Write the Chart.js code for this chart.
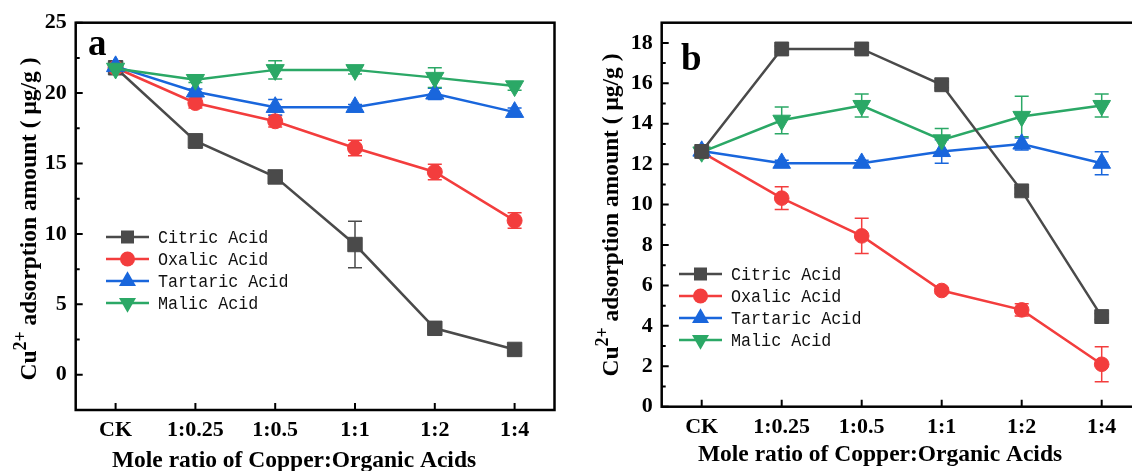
<!DOCTYPE html>
<html><head><meta charset="utf-8">
<script src="https://cdn.jsdelivr.net/npm/chart.js@4/dist/chart.umd.min.js"></script>
<style>
html,body{margin:0;padding:0;background:#fff;overflow:hidden;width:1132px;height:471px;}
#wrap{position:relative;width:1132px;height:471px;overflow:hidden;background:#fff;}
canvas{position:absolute;top:0;}
#ca{left:0;}
#cb{left:566px;}
</style></head><body>
<div id="wrap"><canvas id="ca" width="566" height="471"></canvas><canvas id="cb" width="600" height="471"></canvas></div>
<script>
const categories = ['CK', '1:0.25', '1:0.5', '1:1', '1:2', '1:4'];
const seriesNames = ['Citric Acid', 'Oxalic Acid', 'Tartaric Acid', 'Malic Acid'];

// Panel a values and error bars
const citricA      = [21.8, 16.6, 14.05, 9.25, 3.3, 1.8];
const citricErrA   = [0.2, 0.5, 0.3, 1.65, 0.25, 0.2];
const oxalicA      = [21.8, 19.3, 18.0, 16.1, 14.4, 10.95];
const oxalicErrA   = [0.2, 0.35, 0.4, 0.55, 0.55, 0.55];
const tartaricA    = [21.9, 20.1, 19.0, 19.0, 19.95, 18.65];
const tartaricErrA = [0.2, 0.2, 0.55, 0.2, 0.4, 0.3];
const malicA       = [21.75, 20.95, 21.65, 21.65, 21.1, 20.5];
const malicErrA    = [0.2, 0.2, 0.65, 0.3, 0.7, 0.3];

// Panel b values and error bars
const citricB      = [12.63, 17.7, 17.7, 15.93, 10.68, 4.46];
const citricErrB   = [0.15, 0.15, 0.15, 0.15, 0.15, 0.15];
const oxalicB      = [12.6, 10.32, 8.45, 5.75, 4.79, 2.1];
const oxalicErrB   = [0.15, 0.56, 0.87, 0.15, 0.3, 0.87];
const tartaricB    = [12.65, 12.05, 12.05, 12.63, 13.0, 12.05];
const tartaricErrB = [0.15, 0.15, 0.15, 0.58, 0.3, 0.57];
const malicB       = [12.6, 14.17, 14.9, 13.2, 14.36, 14.9];
const malicErrB    = [0.15, 0.66, 0.57, 0.57, 1.0, 0.57];

// Tick labels
const yTicksA = [0, 5, 10, 15, 20, 25];
const yMinorA = [2.5, 7.5, 12.5, 17.5, 22.5];
const yTicksB = [0, 2, 4, 6, 8, 10, 12, 14, 16, 18];
const yMinorB = [1, 3, 5, 7, 9, 11, 13, 15, 17];

const colors = ['#4a4a4a', '#f33d3d', '#1966dc', '#2ba866'];
const styles = ['rect', 'circle', 'triangle', 'triangle'];
const rotations = [0, 0, 0, 180];
const serif = '"Liberation Serif", "Times New Roman", serif';

function drawMarker(ctx, style, rot, x, y, r, color) {
  ctx.save();
  ctx.fillStyle = color;
  ctx.beginPath();
  if (style === 'rect') {
    const s = Math.SQRT1_2 * r;
    ctx.rect(x - s, y - s, 2 * s, 2 * s);
  } else if (style === 'circle') {
    ctx.arc(x, y, r, 0, Math.PI * 2);
  } else {
    let a = rot * Math.PI / 180;
    for (let k = 0; k < 3; k++) {
      const px = x + Math.sin(a) * r, py = y - Math.cos(a) * r;
      if (k === 0) ctx.moveTo(px, py); else ctx.lineTo(px, py);
      a += Math.PI * 2 / 3;
    }
    ctx.closePath();
  }
  ctx.fill();
  ctx.restore();
}

function framePlugin(cfg, errs) {
  return {
    id: 'frame' + cfg.name,
    beforeDatasetsDraw(chart) {
      const ctx = chart.ctx, x = chart.scales.x, y = chart.scales.y;
      ctx.save();
      ctx.lineWidth = 1.5;
      chart.data.datasets.forEach((ds, i) => {
        ctx.strokeStyle = colors[i];
        ds.data.forEach((v, j) => {
          const e = errs[i][j];
          const px = x.getPixelForValue(j);
          const top = y.getPixelForValue(v + e), bot = y.getPixelForValue(v - e);
          ctx.beginPath();
          ctx.moveTo(px, top); ctx.lineTo(px, bot);
          ctx.moveTo(px - 7, top); ctx.lineTo(px + 7, top);
          ctx.moveTo(px - 7, bot); ctx.lineTo(px + 7, bot);
          ctx.stroke();
        });
      });
      ctx.restore();
    },
    afterDraw(chart) {
      const ctx = chart.ctx, a = chart.chartArea, x = chart.scales.x, y = chart.scales.y;
      ctx.save();
      ctx.strokeStyle = '#000';
      ctx.lineWidth = 2.5;
      ctx.strokeRect(a.left, a.top, a.right - a.left, a.bottom - a.top);
      ctx.lineWidth = 2;
      ctx.beginPath();
      cfg.ticks.forEach(v => { const py = y.getPixelForValue(v); ctx.moveTo(a.left, py); ctx.lineTo(a.left + 7, py); });
      cfg.minor.forEach(v => { const py = y.getPixelForValue(v); ctx.moveTo(a.left, py); ctx.lineTo(a.left + 4, py); });
      categories.forEach((c, j) => { const px = x.getPixelForValue(j); ctx.moveTo(px, a.bottom); ctx.lineTo(px, a.bottom - 7); });
      ctx.stroke();

      // panel letter
      ctx.fillStyle = '#000';
      ctx.font = 'bold 37px ' + serif;
      ctx.textBaseline = 'alphabetic';
      ctx.textAlign = 'left';
      ctx.fillText(cfg.letter, cfg.letterX, cfg.letterY);

      // x title
      ctx.font = 'bold 23.5px ' + serif;
      ctx.textAlign = 'center';
      ctx.fillText('Mole ratio of Copper:Organic Acids', cfg.xtX, cfg.xtY);

      // y title with superscript
      ctx.save();
      ctx.translate(cfg.ytX, cfg.ytY);
      ctx.rotate(-Math.PI / 2);
      ctx.textAlign = 'left';
      const big = 'bold 23.5px ' + serif, sup = 'bold 18px ' + serif;
      const p1 = 'Cu', p2 = '2+', p3 = ' adsorption amount ( μg/g )';
      ctx.font = big; const w1 = ctx.measureText(p1).width, w3 = ctx.measureText(p3).width;
      ctx.font = sup; const w2 = ctx.measureText(p2).width;
      let tx = -(w1 + w2 + w3) / 2;
      ctx.font = big; ctx.fillText(p1, tx, 0); tx += w1;
      ctx.font = sup; ctx.fillText(p2, tx, -10); tx += w2;
      ctx.font = big; ctx.fillText(p3, tx, 0);
      ctx.restore();

      // legend
      seriesNames.forEach((n, i) => {
        const ly = cfg.legY + i * 22;
        ctx.strokeStyle = colors[i];
        ctx.lineWidth = 2.5;
        ctx.beginPath(); ctx.moveTo(cfg.legX1, ly); ctx.lineTo(cfg.legX2, ly); ctx.stroke();
        drawMarker(ctx, styles[i], rotations[i], (cfg.legX1 + cfg.legX2) / 2, ly, cfg.legRadii[i], colors[i]);
        ctx.save();
        ctx.translate(cfg.legText, ly + 1);
        ctx.scale(0.88, 1);
        ctx.font = '19px "Liberation Mono", "DejaVu Sans Mono", monospace';
        ctx.textBaseline = 'middle';
        ctx.textAlign = 'left';
        ctx.fillStyle = '#111';
        ctx.fillText(n, 0, 0);
        ctx.restore();
      });
      ctx.restore();
    }
  };
}

function makeChart(id, series, errs, cfg) {
  const tickFont = { family: serif, weight: 'bold', size: 22 };
  return new Chart(document.getElementById(id), {
    type: 'line',
    data: {
      labels: categories,
      datasets: seriesNames.map((n, i) => ({
        label: n, data: series[i],
        borderColor: colors[i], backgroundColor: colors[i],
        pointStyle: styles[i], pointRotation: rotations[i], pointRadius: cfg.radii[i],
        pointBorderWidth: 1, pointBorderColor: colors[i], pointBackgroundColor: colors[i],
        borderWidth: 2.5, tension: 0, order: cfg.orders[i]
      }))
    },
    options: {
      responsive: false, animation: false, devicePixelRatio: 1, events: [],
      layout: { padding: { top: cfg.padTop, right: cfg.padRight, left: 0, bottom: 0 } },
      plugins: { legend: { display: false }, tooltip: { enabled: false } },
      scales: {
        x: {
          type: 'category', offset: true,
          grid: { display: false, drawTicks: false }, border: { display: false },
          ticks: { font: tickFont, color: '#000', padding: 7, maxRotation: 0, autoSkip: false },
          afterFit: s => { s.height = cfg.xh; }
        },
        y: {
          min: cfg.min, max: cfg.max,
          afterBuildTicks: s => { s.ticks = cfg.ticks.map(v => ({ value: v })); },
          grid: { display: false, drawTicks: false }, border: { display: false },
          ticks: { font: tickFont, color: '#000', padding: 9 },
          afterFit: s => { s.width = cfg.yw; }
        }
      }
    },
    plugins: [framePlugin(cfg, errs)]
  });
}

makeChart('ca', [citricA, oxalicA, tartaricA, malicA],
  [citricErrA, oxalicErrA, tartaricErrA, malicErrA], {
  name: 'A', min: -2.5, max: 25, ticks: yTicksA, minor: yMinorA,
  padTop: 22.7, padRight: 9.3, yw: 75.7, xh: 61,
  radii: [10.2, 7.5, 10.5, 10.5], legRadii: [9.2, 7.5, 9.8, 9.8], orders: [3, 2, 1, 0],
  letter: 'a', letterX: 88, letterY: 55,
  xtX: 294, xtY: 467, ytX: 36, ytY: 219,
  legX1: 106, legX2: 149, legText: 158, legY: 237
});

makeChart('cb', [citricB, oxalicB, tartaricB, malicB],
  [citricErrB, oxalicErrB, tartaricErrB, malicErrB], {
  name: 'B', min: 0, max: 19, ticks: yTicksB, minor: yMinorB,
  padTop: 22.7, padRight: 24.3, yw: 95.7, xh: 64.3,
  radii: [9.8, 7.3, 10.2, 10.2], legRadii: [9.2, 7.5, 9.8, 9.8], orders: [0, 3, 2, 1],
  letter: 'b', letterX: 115, letterY: 70,
  xtX: 314, xtY: 461, ytX: 52, ytY: 215,
  legX1: 113, legX2: 156, legText: 165, legY: 274
});
</script>
</body></html>
